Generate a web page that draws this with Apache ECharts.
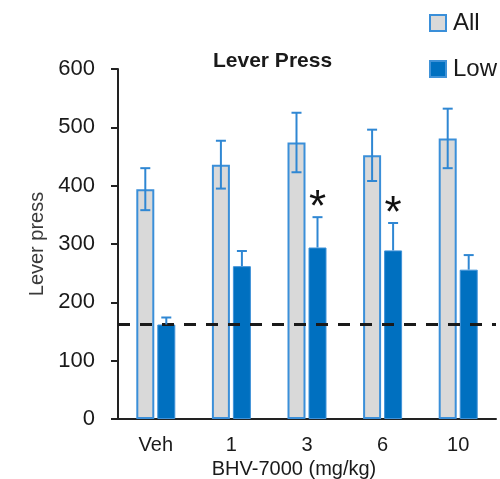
<!DOCTYPE html>
<html>
<head>
<meta charset="utf-8">
<script src="https://cdn.jsdelivr.net/npm/echarts@6/dist/echarts.min.js"></script>
<style>
  html, body { margin: 0; padding: 0; background: #fff; }
  #chart { width: 500px; height: 479px; }
</style>
</head>
<body>
<div id="chart"></div>
<script>
// 数据
var categories = ['Veh', '1', '3', '6', '10'];
var allMean = [394, 436, 474, 452, 481];
var allErr = [36, 41, 51, 44, 51];
var lowMean = [162, 262, 294, 289, 256];
var lowErr = [12, 26, 52, 47, 25];
var starValues = [null, null, 376, 366, null];
var baseline = 163;

var BAR_W = 18;
var BAR_GAP = 3;
var HALF = (BAR_W + BAR_GAP) / 2;
var ERR_COLOR = '#2f87d3';
var FONT = 'Liberation Sans, Arial, sans-serif';
var STAR_SIZE = 44;

var myChart = echarts.init(document.getElementById('chart'));

function errData(means, errs) {
    return means.map(function (m, i) { return [i, m, errs[i]]; });
}

// 误差线
function errRender(offset, upOnly) {
    return function (params, api) {
        var i = api.value(0), m = api.value(1), e = api.value(2);
        var top = api.coord([i, m + e]);
        var bot = api.coord([i, upOnly ? m : m - e]);
        var x = top[0] + offset;
        var st = { stroke: ERR_COLOR, lineWidth: 2 };
        var kids = [
            { type: 'line', shape: { x1: x, y1: top[1], x2: x, y2: bot[1] }, style: st },
            { type: 'line', shape: { x1: x - 5, y1: top[1], x2: x + 5, y2: top[1] }, style: st }
        ];
        if (!upOnly) {
            kids.push({ type: 'line', shape: { x1: x - 5, y1: bot[1], x2: x + 5, y2: bot[1] }, style: st });
        }
        return { type: 'group', children: kids };
    };
}

var starData = [];
starValues.forEach(function (v, i) { if (v != null) starData.push([i, v]); });

var option = {
    animation: false,
    title: {
        text: 'Lever Press',
        left: 208,
        top: 46,
        textStyle: { fontFamily: FONT, fontSize: 21, fontWeight: 'bold', color: '#1a1a1a' }
    },
    legend: {
        data: ['All', 'Low'],
        orient: 'vertical',
        left: 424,
        top: 6,
        itemWidth: 16,
        itemHeight: 16,
        itemGap: 22,
        icon: 'rect',
        textStyle: { fontFamily: FONT, fontSize: 24, color: '#1a1a1a', padding: [0, 0, 0, 2] }
    },
    grid: { left: 118, right: 4, top: 69, bottom: 60, outerBoundsMode: 'none' },
    xAxis: {
        type: 'category',
        data: categories,
        axisLine: { lineStyle: { color: '#222', width: 2 } },
        axisTick: { show: false },
        axisLabel: { fontFamily: FONT, fontSize: 20, color: '#1a1a1a', margin: 16 },
        name: 'BHV-7000 (mg/kg)',
        nameLocation: 'middle',
        nameGap: 39,
        nameTextStyle: { fontFamily: FONT, fontSize: 20, color: '#1a1a1a', padding: [0, 26, 0, 0] }
    },
    yAxis: {
        type: 'value',
        min: 0,
        max: 600,
        interval: 100,
        splitLine: { show: false },
        axisLine: { show: true, lineStyle: { color: '#222', width: 2 } },
        axisTick: { show: true, length: 7, lineStyle: { color: '#222', width: 2 } },
        axisLabel: { fontFamily: FONT, fontSize: 22, color: '#1a1a1a', margin: 23 },
        name: 'Lever press',
        nameLocation: 'middle',
        nameGap: 70,
        nameTextStyle: { fontFamily: FONT, fontSize: 20, color: '#3a3a3a' }
    },
    series: [
        {
            name: 'All',
            type: 'bar',
            data: allMean,
            barWidth: BAR_W,
            barGap: (BAR_GAP / BAR_W * 100) + '%',
            itemStyle: { color: '#d9d9d9', borderColor: '#3a8fd9', borderWidth: 2 }
        },
        {
            name: 'Low',
            type: 'bar',
            data: lowMean,
            barWidth: BAR_W,
            itemStyle: { color: '#0070c0', borderColor: '#3f92d8', borderWidth: 1 }
        },
        {
            name: 'allErr',
            type: 'custom',
            data: errData(allMean, allErr),
            renderItem: errRender(-HALF, false),
            encode: { x: 0, y: 1 },
            z: 5,
            silent: true
        },
        {
            name: 'lowErr',
            type: 'custom',
            data: errData(lowMean, lowErr),
            renderItem: errRender(HALF, true),
            encode: { x: 0, y: 1 },
            z: 5,
            silent: true
        },
        {
            name: 'stars',
            type: 'custom',
            data: starData,
            encode: { x: 0, y: 1 },
            z: 10,
            silent: true,
            renderItem: function (params, api) {
                var p = api.coord([api.value(0), api.value(1)]);
                return {
                    type: 'text',
                    x: p[0] + HALF,
                    y: p[1] - STAR_SIZE * 0.29,
                    style: {
                        text: '*', fontSize: STAR_SIZE, fontFamily: FONT, fill: '#111',
                        align: 'center', verticalAlign: 'top'
                    }
                };
            },
            markLine: {
                silent: true,
                symbol: 'none',
                label: { show: false },
                lineStyle: { type: [12, 10], color: '#1a1a1a', width: 3 },
                data: [{ yAxis: baseline }]
            }
        }
    ]
};

myChart.setOption(option);

window.addEventListener('resize', function () {
    myChart.resize();
});
</script>
</body>
</html>
